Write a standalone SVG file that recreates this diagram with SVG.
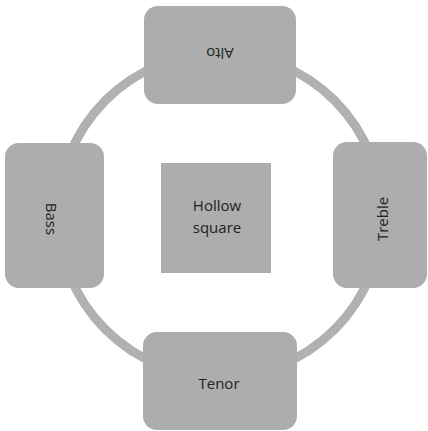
<svg xmlns="http://www.w3.org/2000/svg" width="428" height="431" viewBox="0 0 428 431">
<style>
.box{fill:#adadad;}
.lbl{font-family:"Open Sans","Liberation Sans",sans-serif;font-size:15px;fill:#222222;text-anchor:middle;}
.ring{fill:none;stroke:#b1b1b1;stroke-width:9;}
</style>
<rect width="428" height="431" fill="#ffffff"/>
<g id="connectors">
<circle class="ring" cx="220" cy="215" r="162"/>
</g>
<g id="center">
<rect class="box" x="161" y="163" width="110" height="110"/>
<text class="lbl" x="217" y="211">Hollow</text>
<text class="lbl" x="217" y="233">square</text>
</g>
<g id="alto">
<rect class="box" x="144" y="6" width="152" height="98" rx="14"/>
<text class="lbl" x="220" y="58.4" transform="rotate(180 220 53)">Alto</text>
</g>
<g id="bass">
<rect class="box" x="5" y="143" width="99" height="145" rx="14"/>
<text class="lbl" x="51" y="224.4" transform="rotate(90 51 219)">Bass</text>
</g>
<g id="treble">
<rect class="box" x="333" y="142" width="94" height="146" rx="14"/>
<text class="lbl" x="383" y="224.4" transform="rotate(-90 383 219)">Treble</text>
</g>
<g id="tenor">
<rect class="box" x="143" y="332" width="154" height="98" rx="14"/>
<text class="lbl" x="219" y="388.5">Tenor</text>
</g>
</svg>
